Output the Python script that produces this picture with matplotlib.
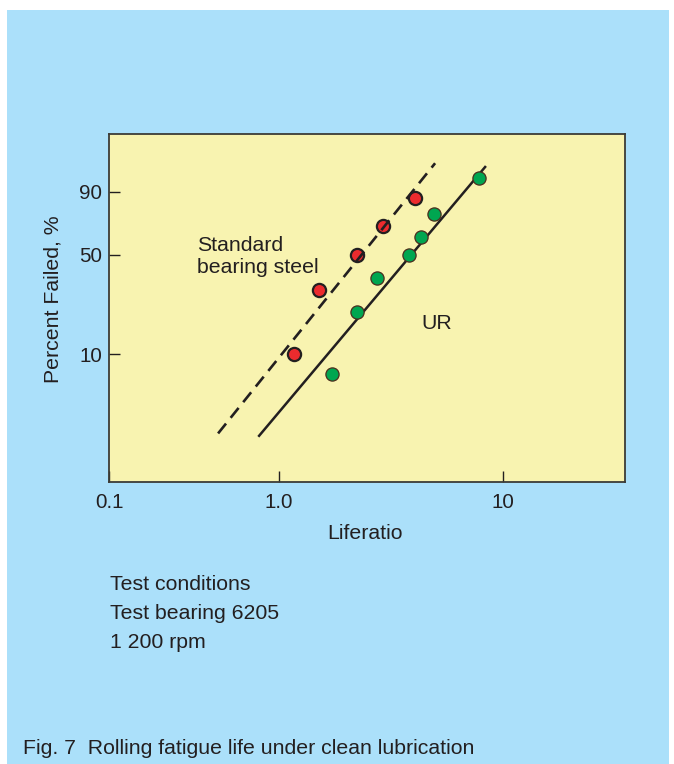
import numpy as np
import matplotlib
matplotlib.use("Agg")
import matplotlib.pyplot as plt
from matplotlib.patches import Rectangle
from matplotlib.ticker import FixedLocator, NullLocator

# -----------------------------
# DATA
# -----------------------------

# Standard bearing steel (red points, dashed fit)
std_life = [1.17, 1.51, 2.23, 2.91, 4.05]
std_pct = [10, 30, 50, 70, 87]
std_fit_life = [0.534, 4.97]
std_fit_pct = [2.3, 98.1]

# UR steel (green points, solid fit)
ur_life = [1.72, 2.23, 2.74, 3.80, 4.30, 4.92, 7.81]
ur_pct = [7, 21, 36, 50, 62, 78, 95]
ur_fit_life = [0.814, 8.31]
ur_fit_pct = [2.2, 97.5]

ytick_vals = [10, 50, 90]
ytick_labels = ["10", "50", "90"]
xtick_vals = [1.0, 10.0]
xtick_labels = ["0.1", "1.0", "10"]

notes = ["Test conditions", "Test bearing 6205", "1 200 rpm"]
caption = "Fig. 7  Rolling fatigue life under clean lubrication"

# -----------------------------
# STYLE
# -----------------------------
BLUE = "#abe0fa"
YELLOW = "#f8f3b0"
INK = "#231f20"
RED = "#ec2b2e"
GREEN = "#00a650"
FS = 15.3

plt.rcParams['font.family'] = ['Liberation Sans', 'DejaVu Sans']
plt.rcParams['text.color'] = INK

XMIN, XMAX = 0.174, 35.0
YMIN, YMAX = 0.92, 99.90


# Weibull probability scale for the y axis
def weib_fwd(p):
    p = np.clip(np.asarray(p, dtype=float), 1e-9, 100 - 1e-9)
    return np.log(-np.log(1 - p / 100.0))


def weib_inv(w):
    return 100.0 * (1 - np.exp(-np.exp(np.asarray(w, dtype=float))))


fig = plt.figure(figsize=(6.74, 7.64), dpi=100)
fig.patch.set_facecolor("white")

# light blue panel behind everything
fig.patches.append(Rectangle((7 / 674, 0), 662 / 674, 754 / 764,
                             transform=fig.transFigure, facecolor=BLUE,
                             edgecolor="none", zorder=-10))

ax = fig.add_axes([109 / 674, 1 - 482 / 764, 516 / 674, 348 / 764])
ax.set_facecolor(YELLOW)
ax.set_xscale("log")
ax.set_yscale("function", functions=(weib_fwd, weib_inv))
ax.set_xlim(XMIN, XMAX)
ax.set_ylim(YMIN, YMAX)

# points and fitted lines
ax.plot(std_life, std_pct, "o", ms=9.5, mfc=RED, mec=INK, mew=1.6, zorder=3)
ax.plot(std_fit_life, std_fit_pct, color=INK, lw=1.9, ls=(0, (4.8, 2.8)),
        zorder=4)
ax.plot(ur_fit_life, ur_fit_pct, color=INK, lw=1.8, zorder=4)
ax.plot(ur_life, ur_pct, "o", ms=9.5, mfc=GREEN, mec="#4a2e1e", mew=0.9,
        zorder=5)

# ticks
ax.xaxis.set_major_locator(FixedLocator([XMIN] + xtick_vals))
ax.set_xticklabels(xtick_labels)
ax.xaxis.set_minor_locator(NullLocator())
ax.yaxis.set_major_locator(FixedLocator(ytick_vals))
ax.set_yticklabels(ytick_labels)
ax.yaxis.set_minor_locator(NullLocator())
ax.tick_params(axis="both", direction="in", length=8, width=1.0,
               color=INK, labelsize=14.8, labelcolor=INK)
ax.tick_params(axis="x", pad=8)
ax.tick_params(axis="y", pad=5)

for sp in ax.spines.values():
    sp.set_color("#3c3c36")
    sp.set_linewidth(1.3)

ax.set_xlabel("Liferatio", fontsize=FS, color=INK)
ax.xaxis.set_label_coords(0.496, -0.12)
ax.set_ylabel("Percent Failed, %", fontsize=FS, color=INK)
ax.yaxis.set_label_coords(-0.09, 0.526)

# in-plot labels
ax.text(0.1705, 0.6638, "Standard", transform=ax.transAxes,
        fontsize=FS, va="baseline", ha="left")
ax.text(0.1705, 0.6006, "bearing steel", transform=ax.transAxes,
        fontsize=FS, va="baseline", ha="left")
ax.text(0.6047, 0.4397, "UR", transform=ax.transAxes,
        fontsize=FS, va="baseline", ha="left")

# notes under the chart
for i, line in enumerate(notes):
    fig.text(110 / 674, 1 - (590 + 29 * i) / 764, line, fontsize=FS,
             va="baseline", ha="left")

fig.text(22.7 / 674, 1 - 754 / 764, caption, fontsize=FS,
         va="baseline", ha="left")

fig.savefig("out.png", dpi=100)
